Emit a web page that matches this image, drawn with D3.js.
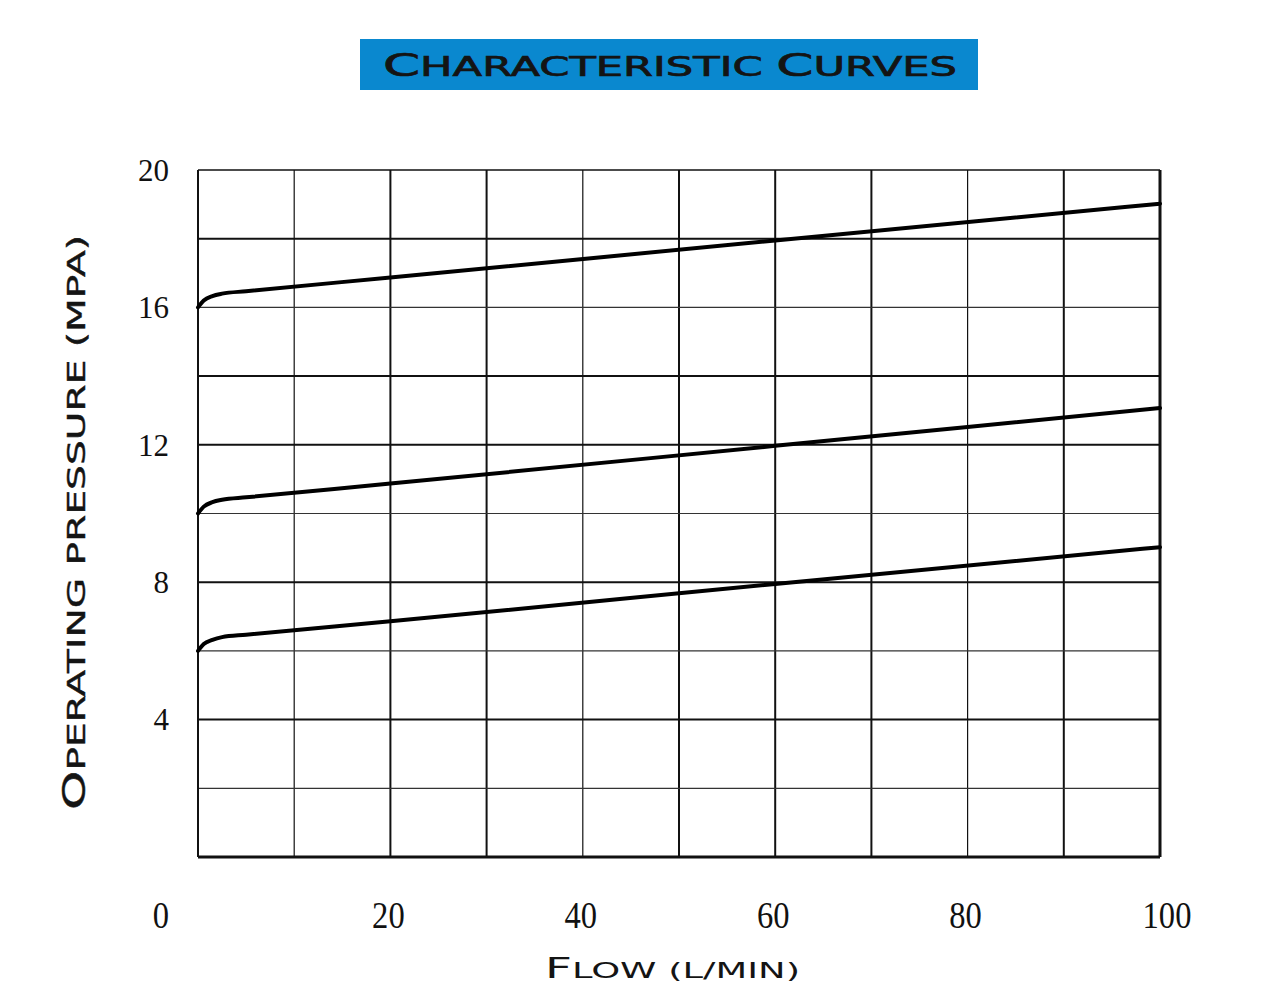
<!DOCTYPE html>
<html><head><meta charset="utf-8">
<script src="https://cdn.jsdelivr.net/npm/d3@7"></script>
<style>body{margin:0;background:#fff}svg{display:block}</style>
</head><body>
<script>
// ---- data ----
const xTicks = [0, 20, 40, 60, 80, 100];
const yTicks = [4, 8, 12, 16, 20];
const xGrid = [10, 20, 30, 40, 50, 60, 70, 80, 90];
const yGrid = [2, 4, 6, 8, 10, 12, 14, 16, 18];
const flow = [0, 0.6, 1.5, 2.5, 5, 20, 60, 100];
const curveHigh = [16.0, 16.2, 16.33, 16.4, 16.47, 16.87, 17.95, 19.02];
const curveMid  = [10.0, 10.2, 10.33, 10.4, 10.47, 10.87, 11.97, 13.07];
const curveLow  = [6.0, 6.2, 6.32, 6.4, 6.47, 6.86, 7.95, 9.02];
const seriesList = [curveHigh, curveMid, curveLow];
const thinX = [10, 40, 80];
const thinY = [2, 6, 10, 16];

const W = 1274, H = 996;
const svg = d3.select("body").append("svg").attr("width", W).attr("height", H);

const x = d3.scaleLinear().domain([0, 100]).range([198, 1160]);
const y = d3.scaleLinear().domain([0, 20]).range([857, 170]);

// title
svg.append("rect").attr("x", 360).attr("y", 39).attr("width", 618).attr("height", 51).attr("fill", "#0a88cf");
const title = svg.append("text").attr("x", 383).attr("y", 76)
  .attr("font-family", "DejaVu Sans").attr("fill", "#141414")
  .attr("stroke", "#141414").attr("stroke-width", 0.7)
  .attr("textLength", 574).attr("lengthAdjust", "spacingAndGlyphs");
[["C",32],["HARACTERISTIC ",26],["C",32],["URVES",26]].forEach(([t,s]) =>
  title.append("tspan").attr("font-size", s).text(t));

// grid
const g = svg.append("g");
g.selectAll(".vx").data(xGrid).join("line")
  .attr("x1", d => x(d)).attr("x2", d => x(d)).attr("y1", y(20)).attr("y2", y(0))
  .attr("stroke", "#111").attr("stroke-width", d => thinX.includes(d) ? 1.2 : 2);
g.selectAll(".hy").data(yGrid).join("line")
  .attr("y1", d => y(d)).attr("y2", d => y(d)).attr("x1", x(0)).attr("x2", x(100))
  .attr("stroke", d => thinY.includes(d) ? "#333" : "#111").attr("stroke-width", d => thinY.includes(d) ? 1.2 : 2);
// frame
g.append("line").attr("x1", x(0)).attr("x2", x(100)).attr("y1", y(20)).attr("y2", y(20)).attr("stroke", "#111").attr("stroke-width", 1.5);
g.append("line").attr("x1", x(0)).attr("x2", x(100)).attr("y1", y(0)).attr("y2", y(0)).attr("stroke", "#111").attr("stroke-width", 3);
g.append("line").attr("x1", x(0)).attr("x2", x(0)).attr("y1", y(20)).attr("y2", y(0)).attr("stroke", "#111").attr("stroke-width", 2);
g.append("line").attr("x1", x(100)).attr("x2", x(100)).attr("y1", y(20)).attr("y2", y(0)).attr("stroke", "#111").attr("stroke-width", 3);

// curves
const line = d3.line().x((d, i) => x(flow[i])).y(d => y(d)).curve(d3.curveMonotoneX);
svg.selectAll(".curve").data(seriesList).join("path")
  .attr("d", d => line(d)).attr("fill", "none").attr("stroke", "#000").attr("stroke-width", 4)
  .attr("stroke-linecap", "round");

// y tick labels
svg.selectAll(".yl").data(yTicks).join("text")
  .attr("x", 169).attr("y", d => y(d)).attr("dy", "0.35em")
  .attr("text-anchor", "end").attr("font-family", "Liberation Serif").attr("font-size", 31)
  .attr("fill", "#111").text(d => d);

// x tick labels (condensed)
svg.selectAll(".xl").data(xTicks).join("text")
  .attr("transform", d => `translate(${d === 0 ? x(0) - 37 : x(d) + (d === 100 ? 7 : -2)},928) scale(0.88,1)`)
  .attr("text-anchor", "middle").attr("font-family", "Liberation Serif").attr("font-size", 37)
  .attr("fill", "#111").text(d => d);

// x axis title
const xt = svg.append("text").attr("x", 545).attr("y", 978)
  .attr("font-family", "DejaVu Sans").attr("fill", "#141414")
  .attr("textLength", 255).attr("lengthAdjust", "spacingAndGlyphs");
[["F",28],["LOW (L/MIN)",22]].forEach(([t,s]) => xt.append("tspan").attr("font-size", s).text(t));

// y axis title
const yt = svg.append("text").attr("transform", "translate(85,810) rotate(-90)")
  .attr("font-family", "DejaVu Sans").attr("fill", "#141414")
  .attr("stroke", "#141414").attr("stroke-width", 0.4)
  .attr("textLength", 575).attr("lengthAdjust", "spacingAndGlyphs");
[["O",32],["PERATING PRESSURE (MPA)",25]].forEach(([t,s]) => yt.append("tspan").attr("font-size", s).text(t));
</script>
</body></html>
